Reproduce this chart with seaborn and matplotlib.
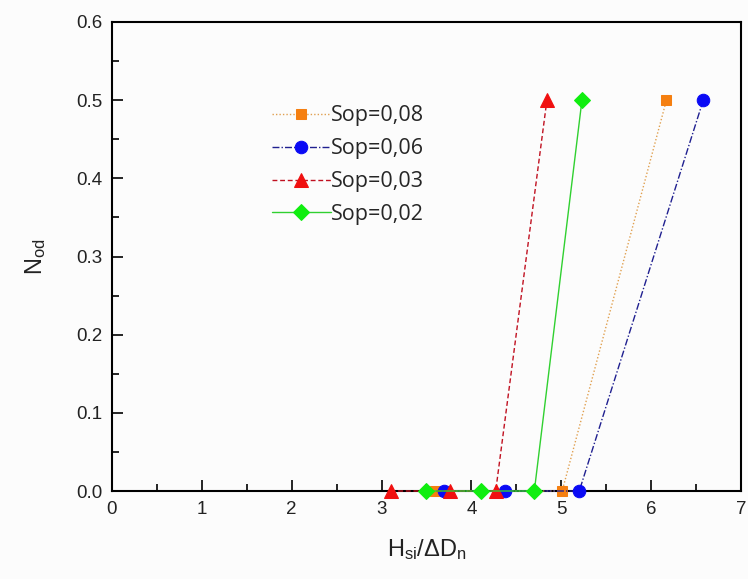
import matplotlib
matplotlib.use("Agg")
import matplotlib.pyplot as plt
import seaborn as sns
import pandas as pd

sns.set_theme(style="ticks")
plt.rcParams['font.family'] = ['Liberation Sans', 'DejaVu Sans']
plt.rcParams['mathtext.fontset'] = 'custom'
plt.rcParams['mathtext.rm'] = 'Liberation Sans'
plt.rcParams['mathtext.it'] = 'Liberation Sans'

# Data
labels = ["Sop=0,08", "Sop=0,06", "Sop=0,03", "Sop=0,02"]
x_sop008 = [3.60, 5.01, 6.17]
y_sop008 = [0.0, 0.0, 0.5]
x_sop006 = [3.70, 4.37, 5.20, 6.58]
y_sop006 = [0.0, 0.0, 0.0, 0.5]
x_sop003 = [3.10, 3.76, 4.27, 4.84]
y_sop003 = [0.0, 0.0, 0.0, 0.5]
x_sop002 = [3.50, 4.11, 4.70, 5.23]
y_sop002 = [0.0, 0.0, 0.0, 0.5]

xs = [x_sop008, x_sop006, x_sop003, x_sop002]
ys = [y_sop008, y_sop006, y_sop003, y_sop002]
markers = ['s', 'o', '^', 'D']
msizes = [7.5, 9, 10, 8]
mcolors = ['#f57f10', '#0a0af5', '#f01010', '#10ee10']
lcolors = ['#e0a050', '#202090', '#c01020', '#30d030']
lstyles = [(0, (1, 1.5)), (0, (5, 1.5, 1, 1.5)), (0, (3.5, 2)), '-']

bg = '#fcfcfc'
fig = plt.figure(figsize=(7.48, 5.79), dpi=100, facecolor=bg)
ax = fig.add_axes([112/748, (579-491)/579, (741-112)/748, (491-22)/579])
ax.set_facecolor(bg)

for x, y, lab, mk, ms, mc, lc, ls in zip(xs, ys, labels, markers, msizes, mcolors, lcolors, lstyles):
    df = pd.DataFrame({'x': x, 'y': y})
    sns.lineplot(data=df, x='x', y='y', ax=ax, sort=False, color=lc,
                 linestyle=ls, linewidth=1.0, marker=mk, markersize=ms,
                 markerfacecolor=mc, markeredgecolor=mc, label=lab,
                 clip_on=False, zorder=3)

ax.set_xlim(0, 7)
ax.set_ylim(0, 0.6)
ax.set_xticks([0, 1, 2, 3, 4, 5, 6, 7])
ax.set_xticks([0.5, 1.5, 2.5, 3.5, 4.5, 5.5, 6.5], minor=True)
ax.set_yticks([0.0, 0.1, 0.2, 0.3, 0.4, 0.5, 0.6])
ax.set_yticks([0.05, 0.15, 0.25, 0.35, 0.45, 0.55], minor=True)
ax.set_xticklabels(['0', '1', '2', '3', '4', '5', '6', '7'])
ax.set_yticklabels(['0.0', '0.1', '0.2', '0.3', '0.4', '0.5', '0.6'])
ax.tick_params(axis='both', which='major', direction='in', length=8, width=1.2,
               labelsize=13.5, color='black', labelcolor='#222222',
               top=False, right=False, pad=7)
ax.tick_params(axis='both', which='minor', direction='in', length=5, width=1.2,
               color='black', top=False, right=False)
for s in ax.spines.values():
    s.set_color('black')
    s.set_linewidth(1.5)

ax.set_xlabel(r'H$_{\mathrm{si}}$/$\Delta$D$_{\mathrm{n}}$', fontsize=17, labelpad=14, color='#222222')
ax.set_ylabel(r'N$_{\mathrm{od}}$', fontsize=17, labelpad=20, color='#222222')

leg = ax.legend(loc='upper left', bbox_to_anchor=(0.255, 0.822), frameon=False,
                prop={'family': 'Open Sans', 'size': 15.5}, handlelength=2.7,
                handletextpad=0.0, labelspacing=0.55, borderpad=0, borderaxespad=0)

fig.savefig('out.png', dpi=100, facecolor=bg)
